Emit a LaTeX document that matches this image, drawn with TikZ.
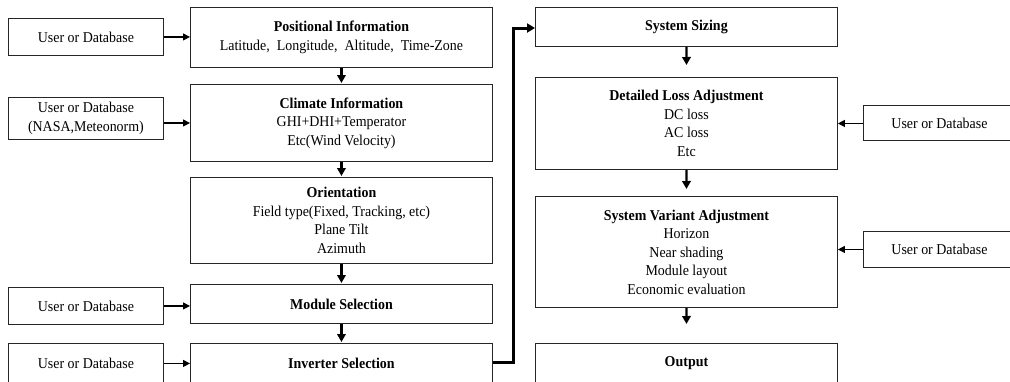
\documentclass[tikz,border=0pt]{standalone}
\usepackage{fontspec}
\setmainfont[FakeStretch=0.93]{Liberation Serif}
\usetikzlibrary{arrows.meta}
\begin{document}
\begin{tikzpicture}[x=1pt,y=-1pt,
 box/.style={draw=black!85,line width=0.9pt,inner sep=0pt,align=center,anchor=north west,font=\fontsize{15}{18.5}\selectfont},
 thinarrow/.style={line width=1.2pt,-{Triangle[length=7pt,width=7pt]}},
 thickarrow/.style={line width=2.2pt,-{Triangle[length=8pt,width=8.5pt]}},
 ]
\useasboundingbox (0,0) rectangle (1010,381);
\clip (0,0) rectangle (1010,381);
% left input boxes
\node[box,minimum width=155pt,minimum height=37pt] (u1) at (8,18) {User or Database};
\node[box,minimum width=155pt,minimum height=42pt] (u2) at (8,97) {User or Database\\(NASA,Meteonorm)};
\node[box,minimum width=155pt,minimum height=37pt] (u3) at (8,287) {User or Database};
\node[box,minimum width=155pt,minimum height=40pt] (u4) at (8,343) {User or Database};
% middle column
\node[box,minimum width=302pt,minimum height=60pt] (p) at (190,7) {\textbf{Positional Information}\\Latitude,\ \ Longitude,\ \ Altitude,\ \ Time-Zone};
\node[box,minimum width=302pt,minimum height=77pt] (c) at (190,84) {\textbf{Climate Information}\\GHI+DHI+Temperator\\Etc(Wind Velocity)};
\node[box,minimum width=302pt,minimum height=86pt] (o) at (190,177) {\textbf{Orientation}\\Field type(Fixed, Tracking, etc)\\Plane Tilt\\Azimuth};
\node[box,minimum width=302pt,minimum height=39pt] (m) at (190,284) {\textbf{Module Selection}};
\node[box,minimum width=302pt,minimum height=40pt] (i) at (190,343) {\textbf{Inverter Selection}};
% right column
\node[box,minimum width=302pt,minimum height=39pt] (s) at (535,7) {\textbf{System Sizing}};
\node[box,minimum width=302pt,minimum height=92pt] (d) at (535,77) {\textbf{Detailed Loss Adjustment}\\DC loss\\AC loss\\Etc};
\node[box,minimum width=302pt,minimum height=111pt] (v) at (535,196) {\textbf{System Variant Adjustment}\\Horizon\\Near shading\\Module layout\\Economic evaluation};
\node[box,minimum width=302pt,minimum height=40pt] (out) at (535,343) {\textbf{Output}};
% right input boxes
\node[box,minimum width=152pt,minimum height=35pt] (r1) at (863,105) {User or Database};
\node[box,minimum width=152pt,minimum height=36pt] (r2) at (863,231) {User or Database};
% horizontal input arrows
\draw[thinarrow] (u1.east) -- (p.west |- u1.east);
\draw[thinarrow] (u2.east |- c.west) -- (c.west);
\draw[thinarrow] (u3.east) -- (m.west |- u3.east);
\draw[thinarrow] (u4.east) -- (i.west |- u4.east);
\draw[thinarrow] (r1.west |- d.east) -- (d.east);
\draw[thinarrow] (r2.west) -- (v.east |- r2.west);
% middle column flow
\draw[thickarrow,shorten >=1pt] (p.south) -- (c.north);
\draw[thickarrow,shorten >=1pt] (c.south) -- (o.north);
\draw[thickarrow,shorten >=1pt] (o.south) -- (m.north);
\draw[thickarrow,shorten >=1pt] (m.south) -- (i.north);
% jump to system sizing
\coordinate (j1) at (513,362);
\coordinate (j2) at (513,28);
\draw[line width=3pt,-{Triangle[length=8pt,width=9pt]}] (i.east |- j1) -- (j1) -- (j2) -- (s.west |- j2);
% right column flow
\coordinate (e1) at (686.5,65);
\coordinate (e2) at (686.5,189);
\coordinate (e3) at (686.5,324);
\draw[thickarrow] (s.south) -- (e1);
\draw[thickarrow] (d.south) -- (e2);
\draw[thickarrow] (v.south) -- (e3);
\end{tikzpicture}
\end{document}
